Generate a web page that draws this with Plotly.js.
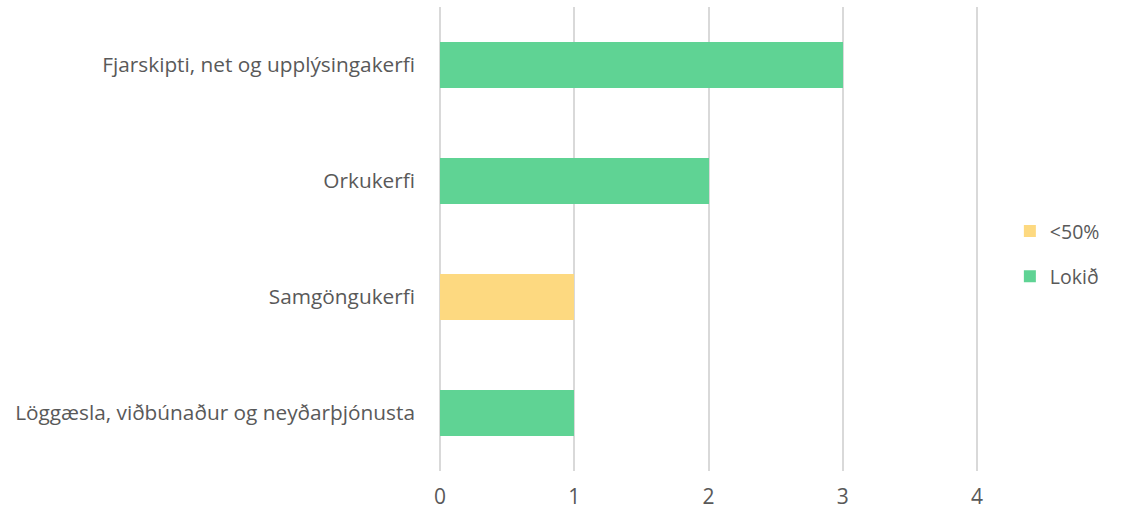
<!DOCTYPE html>
<html><head><meta charset="utf-8">
<script src="https://cdn.plot.ly/plotly-3.0.1.min.js"></script>
<style>body{margin:0;background:#fff}#c{width:1122px;height:511px}</style>
</head><body><div id="c"></div>
<script>
const categories = ["Löggæsla, viðbúnaður og neyðarþjónusta", "Samgöngukerfi", "Orkukerfi", "Fjarskipti, net og upplýsingakerfi"];
const seriesNames = ["Lokið", "<50%"];
const lokid = [1, null, 2, 3];
const under50 = [null, 1, null, null];
const xTicks = [0, 1, 2, 3, 4];

const font = {family: "Open Sans, Noto Sans, sans-serif", size: 20, color: "#595959"};
const traces = [
  {type: "bar", orientation: "h", name: seriesNames[1], y: categories, x: under50,
   marker: {color: "#FDD980"}, legendgroup: "b", hoverinfo: "x+y"},
  {type: "bar", orientation: "h", name: seriesNames[0], y: categories, x: lokid,
   marker: {color: "#5FD394"}, legendgroup: "a", hoverinfo: "x+y"}
];
const layout = {
  width: 1122, height: 511,
  margin: {l: 437, r: 142, t: 7, b: 40},
  barmode: "stack", bargap: 0.6,
  paper_bgcolor: "#fff", plot_bgcolor: "#fff",
  font: font,
  showlegend: true,
  legend: {x: 1.055, y: 0.468, xanchor: "left", yanchor: "middle", traceorder: "grouped",
           tracegroupgap: 17, itemwidth: 30, font: {family: font.family, size: 19.5, color: "#595959"}},
  xaxis: {range: [-0.0223, 4.0223], tickvals: xTicks, showgrid: true, gridcolor: "#D9D9D9", gridwidth: 2,
          zeroline: false, showline: false, ticks: "", ticklabelstandoff: 11,
          tickfont: {family: font.family, size: 21, color: "#595959"}, fixedrange: true},
  yaxis: {type: "category", categoryorder: "array", categoryarray: categories, showgrid: false,
          zeroline: false, showline: false, ticks: "", ticklabelstandoff: 21,
          tickfont: {family: font.family, size: 20.8, color: "#595959"}, fixedrange: true}
};
Plotly.newPlot("c", traces, layout, {displayModeBar: false, staticPlot: true});
</script></body></html>
